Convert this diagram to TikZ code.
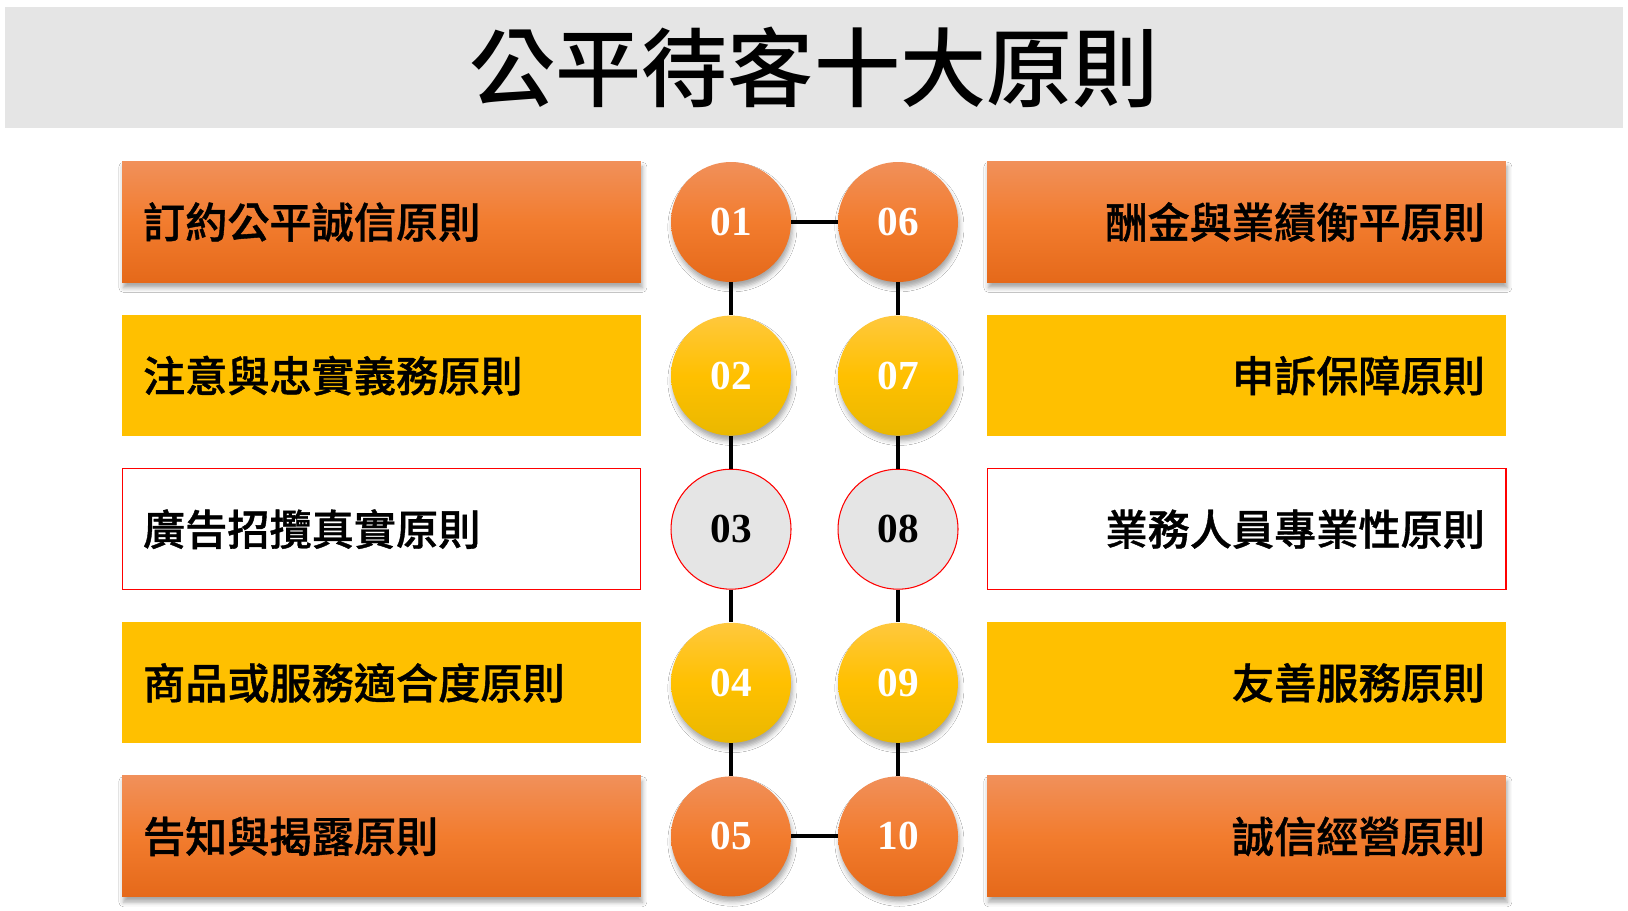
\documentclass[tikz,border=0pt]{standalone}
\usepackage{fontspec}
\usepackage{xcolor}
\usepackage{tikz}
\usetikzlibrary{shadows.blur}
\newfontfamily\cjk{Noto Sans CJK TC Medium}
\newfontfamily\cjknegrita[FakeBold=0.9]{Noto Sans CJK TC Medium}
\newfontfamily\cifras{Liberation Serif}
\definecolor{naranjaarriba}{HTML}{F1905A}
\definecolor{naranja}{HTML}{F27C2E}
\definecolor{naranjaabajo}{HTML}{E5691A}
\definecolor{amarillo}{HTML}{FFC000}
\definecolor{amarilloarriba}{HTML}{FFC83D}
\definecolor{amarilloabajo}{HTML}{EAB800}
\definecolor{gris}{HTML}{E5E5E5}
\definecolor{rojo}{HTML}{FF0000}
\tikzset{
  sombra/.style={blur shadow={shadow xshift=0.8pt, shadow yshift=-3pt,
    shadow blur radius=2.6pt, shadow opacity=35}},
  caja/.style={rectangle, minimum width=10.38cm, minimum height=2.42cm,
    inner sep=0pt, text width=9.54cm,
    font=\cjknegrita\fontsize{24}{28}\selectfont},
  bola/.style={circle, minimum size=2.4cm, inner sep=0pt, text=white,
    font=\cifras\bfseries\fontsize{23.5}{27}\selectfont},
  naranjo/.style={top color=naranjaarriba, bottom color=naranjaabajo,
    middle color=naranja, sombra},
  amarillobox/.style={fill=amarillo},
  amarillobola/.style={top color=amarilloarriba, bottom color=amarilloabajo,
    middle color=amarillo, sombra},
  blancobox/.style={fill=white, draw=rojo, line width=0.6pt},
  grisbola/.style={fill=gris, draw=rojo, line width=0.6pt, text=black},
  linea/.style={black, line width=2.3pt}
}
\begin{document}
\begin{tikzpicture}[x=0.02cm, y=-0.02cm]
  \useasboundingbox (0,0) rectangle (1628,910);
  \fill[white] (0,0) rectangle (1628,910);

  % --- Titulo ---
  \node[rectangle, fill=gris, minimum width=32.36cm, minimum height=2.42cm,
    font=\cjk\fontsize{49}{56}\selectfont] (titulo) at (814,67.5) {公平待客十大原則};

  % --- Cajas izquierda ---
  \foreach \n/\y/\estilo/\texto in {1/222/naranjo/訂約公平誠信原則,
      2/375.6/amarillobox/注意與忠實義務原則, 3/529.2/blancobox/廣告招攬真實原則,
      4/682.8/amarillobox/商品或服務適合度原則, 5/836.4/naranjo/告知與揭露原則} {
    \node[caja, align=left, \estilo] (izq\n) at (381.5,\y) {\texto};
  }

  % --- Cajas derecha ---
  \foreach \n/\y/\estilo/\texto in {1/222/naranjo/酬金與業績衡平原則,
      2/375.6/amarillobox/申訴保障原則, 3/529.2/blancobox/業務人員專業性原則,
      4/682.8/amarillobox/友善服務原則, 5/836.4/naranjo/誠信經營原則} {
    \node[caja, align=right, \estilo] (der\n) at (1246.5,\y) {\texto};
  }

  % --- Numeros ---
  \foreach \a/\b/\y/\estilo in {01/06/222/naranjo, 02/07/375.6/amarillobola,
      03/08/529.2/grisbola, 04/09/682.8/amarillobola, 05/10/836.4/naranjo} {
    \node[bola, \estilo] (c\a) at (731,\y) {\a};
    \node[bola, \estilo] (c\b) at (898,\y) {\b};
  }

  % --- Conectores ---
  \draw[linea] (c01) -- (c06);
  \draw[linea] (c05) -- (c10);
  \draw[linea] (c01) -- (c02);
  \draw[linea] (c02) -- (c03);
  \draw[linea] (c03) -- (c04);
  \draw[linea] (c04) -- (c05);
  \draw[linea] (c06) -- (c07);
  \draw[linea] (c07) -- (c08);
  \draw[linea] (c08) -- (c09);
  \draw[linea] (c09) -- (c10);

\end{tikzpicture}
\end{document}
